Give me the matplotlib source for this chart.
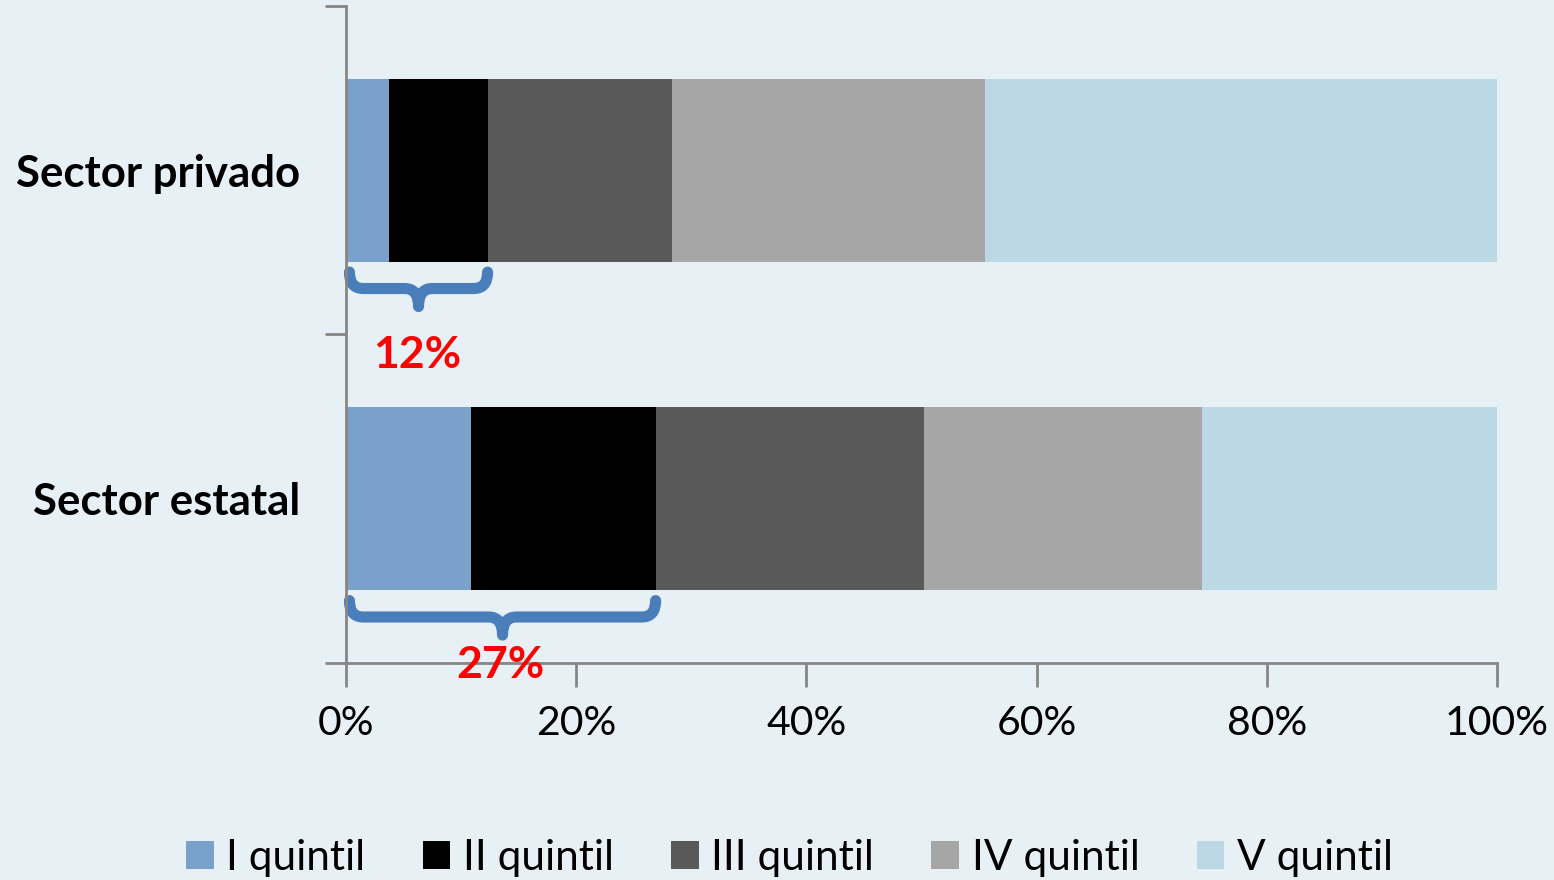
import numpy as np
import matplotlib.pyplot as plt
from matplotlib.path import Path
from matplotlib.patches import PathPatch

plt.rcParams['font.family'] = ['Lato', 'DejaVu Sans']

# data (percent of each sector by income quintil)
sectors = ['Sector estatal', 'Sector privado']
quintiles = ['I quintil', 'II quintil', 'III quintil', 'IV quintil', 'V quintil']
estatal = [10.9, 16.0, 23.3, 24.2, 25.6]
privado = [3.7, 8.6, 16.0, 27.2, 44.5]
colors = ['#7aa1ca', '#000000', '#595959', '#a6a6a6', '#bcd8e4']

values = np.array([estatal, privado])
bg = '#e7f0f4'

fig = plt.figure(figsize=(15.54, 8.8), dpi=100, facecolor=bg)
ax = fig.add_axes([346/1554, 1-663/880, (1497-346)/1554, (663-6)/880])
ax.set_facecolor(bg)

y = np.arange(len(sectors))
left = np.zeros(len(sectors))
for i, q in enumerate(quintiles):
    ax.barh(y, values[:, i], left=left, height=0.556, color=colors[i], label=q)
    left += values[:, i]

ax.set_xlim(0, 100)
ax.set_ylim(-0.5, 1.5)
ax.set_xticks(np.arange(0, 101, 20))
ax.set_xticklabels(['{}%'.format(v) for v in range(0, 101, 20)])
ax.set_yticks(y)
ax.set_yticklabels(sectors, fontweight='bold')
ax.set_yticks([-0.5, 0.5, 1.5], minor=True)
ax.tick_params(axis='y', which='major', length=0, pad=33, labelsize=31.5)
ax.tick_params(axis='y', which='minor', length=15, width=2, color='#868686', direction='out')
ax.tick_params(axis='x', length=17, width=2, color='#868686', labelsize=29.5, pad=13)
for s in ['top', 'right']:
    ax.spines[s].set_visible(False)
for s in ['left', 'bottom']:
    ax.spines[s].set_color('#868686')
    ax.spines[s].set_linewidth(2)


def brace(ax, x0, x1, yc):
    top, mid, tip = yc - 0.31, yc - 0.36, yc - 0.415
    xm = (x0 + x1) / 2
    r = 1.2
    verts = [(x0, top), (x0, mid), (x0 + r, mid),
             (xm - r, mid), (xm, mid), (xm, tip),
             (xm, mid), (xm + r, mid),
             (x1 - r, mid), (x1, mid), (x1, top)]
    codes = [Path.MOVETO, Path.CURVE3, Path.CURVE3,
             Path.LINETO, Path.CURVE3, Path.CURVE3,
             Path.CURVE3, Path.CURVE3,
             Path.LINETO, Path.CURVE3, Path.CURVE3]
    ax.add_patch(PathPatch(Path(verts, codes), fill=False, edgecolor='#4a7ebb',
                           lw=8, capstyle='round', joinstyle='round', clip_on=False))


for k, yc in enumerate(y):
    cum = values[k, 0] + values[k, 1]
    brace(ax, 0.3, cum, yc)
    ly = yc - (0.505 if k == 0 else 0.563)
    ax.text(cum / 2, ly, '{:.0f}%'.format(cum), color='#ff0000', fontsize=32,
            fontweight='bold', ha='center', va='center', clip_on=False)

fig.legend(loc='center', bbox_to_anchor=(0.508, 1 - 858/880), ncol=5, frameon=False,
           fontsize=30.5, handlelength=0.65, handleheight=0.65, handletextpad=0.3,
           columnspacing=1.35)

fig.savefig('out.png', dpi=100, facecolor=bg)
